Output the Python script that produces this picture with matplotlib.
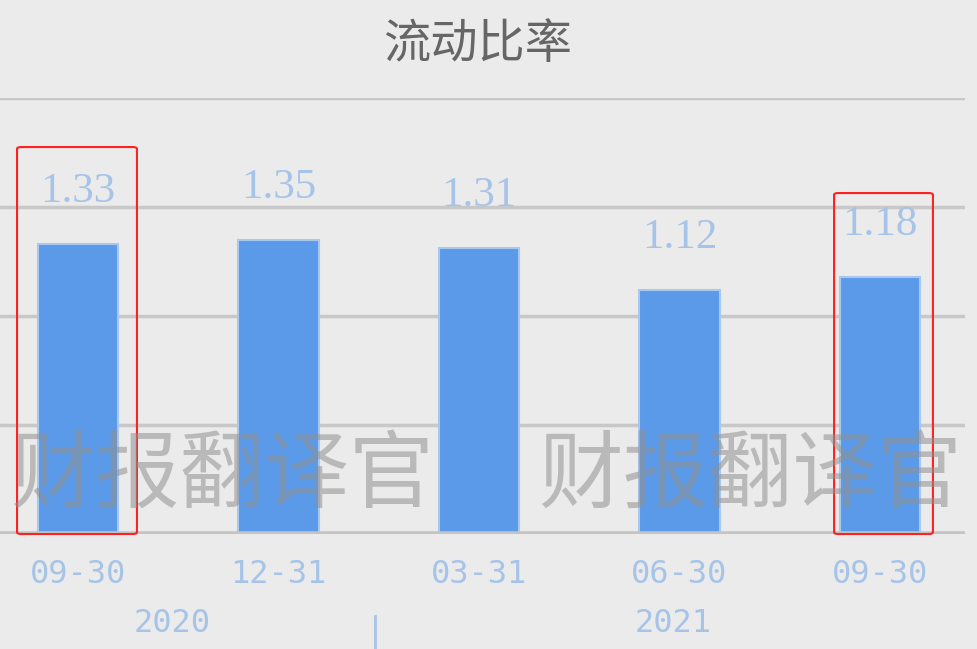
import numpy as np
import matplotlib.pyplot as plt
from matplotlib.patches import FancyBboxPatch

plt.rcParams['font.family'] = ['Noto Sans CJK SC', 'DejaVu Sans']

dates = ['09-30', '12-31', '03-31', '06-30', '09-30']
ratios = [1.33, 1.35, 1.31, 1.12, 1.18]
years = ['2020', '2021']
year_pos = [0.47, 2.97]
highlight = [0, 4]
title = '流动比率'
watermark = '财报翻译官'

bg = '#ebebeb'
bar_color = '#5b9ae8'
label_color = '#a6c3e8'

fig = plt.figure(figsize=(9.77, 6.49), dpi=100, facecolor=bg)
ax = fig.add_axes([0, 115 / 649, 965 / 977, 436 / 649], facecolor=bg)

x = np.arange(len(ratios))
ax.bar(x, ratios, width=0.4, color=bar_color, edgecolor='#a9c8f0', linewidth=1.5, zorder=2)

ax.set_xlim(-0.389, 4.424)
ax.set_ylim(0, 2.0)

for g in [0.5, 1.0, 1.5, 2.0]:
    ax.axhline(g, color='#c8c8c8', lw=2.5, zorder=1)
ax.axhline(0, color='#c4c4c4', lw=4, zorder=3)

for xi, v in zip(x, ratios):
    ax.text(xi, v + 0.24, f'{v:.2f}', ha='center', va='center', fontsize=31,
            family='Liberation Serif', color=label_color, zorder=4)

# red boxes around first and last bar
boxes = {0: (-0.304, 0.294, 1.775), 4: (-0.229, 0.264, 1.564)}
for i in highlight:
    l, r, top = boxes[i]
    p = FancyBboxPatch((x[i] + l, 0), r - l, top, boxstyle='round,pad=0,rounding_size=0.02',
                       fill=False, edgecolor='#ff2020', lw=1.5, zorder=5,
                       mutation_aspect=2.0 / 4.8, clip_on=False)
    ax.add_patch(p)

for s in ax.spines.values():
    s.set_visible(False)
ax.set_yticks([])
ax.set_xticks(x)
ax.set_xticklabels(dates, family='DejaVu Sans Mono', fontsize=23, color=label_color)
ax.tick_params(axis='x', length=0, pad=18)

for yp, yr in zip(year_pos, years):
    ax.text(yp, -0.41, yr, ha='center', va='center', family='DejaVu Sans Mono',
            fontsize=23, color=label_color, clip_on=False)
ax.plot([1.48, 1.48], [-0.378, -0.53], color='#a6c3e8', lw=2, clip_on=False)

fig.text(478 / 977, 1 - 45 / 649, title, ha='center', va='center', fontsize=34, color='#666666')

for wx in [222, 750]:
    fig.text(wx / 977, 1 - 476 / 649, watermark, ha='center', va='center', fontsize=61,
             color='#909090', alpha=0.55, zorder=10)

fig.savefig('out.png', dpi=100, facecolor=bg)
